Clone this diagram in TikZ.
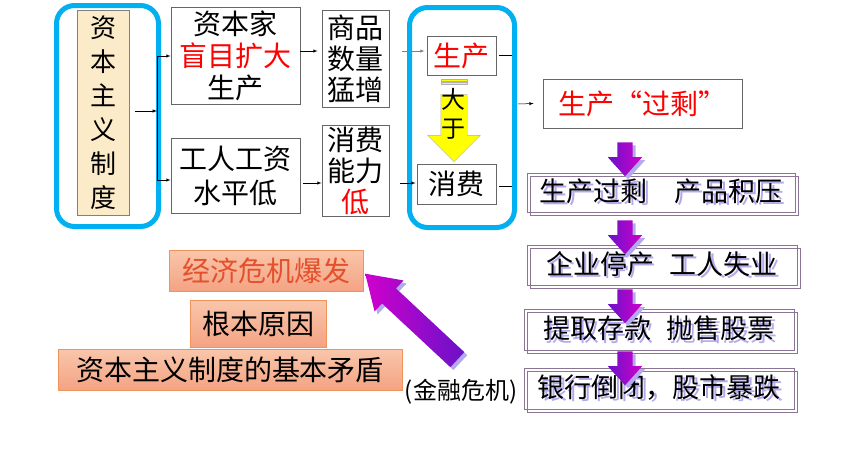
\documentclass[tikz,border=0pt]{standalone}
\usepackage{fontspec}
\setmainfont{Noto Sans CJK SC}
\usetikzlibrary{arrows,shapes,shadows}

\definecolor{skyline}{HTML}{00B0F0}
\definecolor{tanfill}{HTML}{FCEBC8}
\definecolor{salmonA}{HTML}{F9C6AB}
\definecolor{salmonB}{HTML}{F4A383}
\definecolor{salmonline}{HTML}{F0945C}
\definecolor{crisisred}{HTML}{E4502C}
\definecolor{plum}{HTML}{8C7496}
\definecolor{lavender}{HTML}{B3AAEE}
\definecolor{violetA}{HTML}{6A12C8}
\definecolor{violetB}{HTML}{D000CC}
\definecolor{lemon}{HTML}{FFFF00}

\newcommand\shtext[1]{\makebox[0pt][l]{\hspace*{2.5pt}\raisebox{-2.5pt}{\textcolor{lavender}{#1}}}#1}

\begin{document}
\begin{tikzpicture}[x=1pt,y=-1pt]
				\tikzstyle{arrow}=[draw, -latex, line width=0.5pt]
				\tikzstyle{plain}=[draw=gray!80!black, line width=0.8pt, fill=white, inner sep=0pt, align=center, font=\fontsize{28}{32}\selectfont]
				\tikzstyle{frame}=[draw=skyline, line width=5pt, rounded corners=18pt]
				\tikzstyle{chain}=[draw=plum, line width=0.6pt, inner sep=0pt, font=\fontsize{27}{30}\selectfont, drop shadow={shadow xshift=3pt, shadow yshift=-3pt, fill=none, draw=plum, opacity=1}]
				\tikzstyle{salmon}=[draw=salmonline, line width=0.8pt, top color=salmonA, bottom color=salmonB, inner sep=0pt, font=\fontsize{28}{32}\selectfont]
				\tikzstyle{parrow}=[single arrow, inner xsep=0pt, single arrow head indent=0pt, drop shadow={shadow xshift=3pt, shadow yshift=-3pt, fill=lavender, opacity=1}]
				\tikzstyle{downarrow}=[parrow, rotate=-90, inner ysep=7.5pt, minimum height=34pt, single arrow head extend=9.5pt, single arrow tip angle=84, left color=violetA, right color=violetB]

				\useasboundingbox (0,0) rectangle (860,469);

				 % Cause
				\node [frame, minimum width=102pt, minimum height=221pt] at (107.5,116) (leftframe) {};
				\node [plain, draw=gray, fill=tanfill, minimum width=52pt, minimum height=205pt, font=\fontsize{26}{34}\selectfont] at (103,112.5) (system) {资\\本\\主\\义\\制\\度};
				\node [plain, minimum width=129pt, minimum height=97pt] at (235.5,55.5) (owner) {资本家\\\textcolor{red}{盲目扩大}\\生产};
				\node [plain, minimum width=129pt, minimum height=75pt, font=\fontsize{28}{34}\selectfont] at (235.5,175.5) (wage) {工人工资\\水平低};
				\node [plain, minimum width=67pt, minimum height=97pt, font=\fontsize{28}{31}\selectfont] at (355.5,58.5) (goods) {商品\\数量\\猛增};
				\node [plain, minimum width=67pt, minimum height=91pt, font=\fontsize{28}{31}\selectfont] at (355.5,170.5) (power) {消费\\能力\\\textcolor{red}{低}};

				 % Contradiction
				\node [frame, minimum width=105pt, minimum height=220pt] at (462,117.5) (rightframe) {};
				\node [plain, minimum width=69pt, minimum height=39pt, text=red] at (461.5,55.5) (supply) {生产};
				\node [plain, minimum width=79pt, minimum height=40pt] at (456.5,184) (demand) {消费};
				\fill [lemon, draw=gray!60] (441,79) rectangle (467,81);
				\fill [lemon, draw=gray!60] (441,82.5) rectangle (467,84.5);
				\node [single arrow, rotate=-90, fill=lemon, draw=gray!60, inner xsep=0pt, inner ysep=13pt, minimum height=67pt, single arrow head extend=13pt, single arrow tip angle=90, single arrow head indent=0pt] at (454,121.5) (more) {};
				\node [inner sep=0pt, align=center, font=\fontsize{24}{29}\selectfont] at (453,113.5) (moretext) {大\\于};

				 % Chain
				\node [plain, minimum width=199pt, minimum height=49pt, text=red] at (642.5,103.5) (excess) {生产“过剩”};
				\node [chain, minimum width=268pt, minimum height=39pt] at (661,192.5) (glut) {\shtext{生产过剩　产品积压}};
				\node [chain, minimum width=270pt, minimum height=40pt] at (662,265) (idle) {\shtext{企业停产\hspace{16pt}工人失业}};
				\node [chain, minimum width=270pt, minimum height=41pt] at (659,329.5) (panic) {\shtext{提取存款\hspace{16pt}抛售股票}};
				\node [chain, minimum width=270pt, minimum height=41pt] at (659,388.5) (crash) {\shtext{银行倒闭，股市暴跌}};

				 % Result
				\node [salmon, minimum width=194pt, minimum height=41pt, text=crisisred] at (266,270.5) (crisis) {经济危机爆发};
				\node [salmon, minimum width=136pt, minimum height=47pt] at (258,323.5) (cause) {根本原因};
				\node [salmon, minimum width=344pt, minimum height=41pt] at (230,369.5) (root) {资本主义制度的基本矛盾};
				\node [inner sep=0pt, font=\fontsize{24}{24}\selectfont] at (461,392) (finance) {(金融危机)};

				 % Path Arrows
				\coordinate (split) at (157,111);
				\coordinate (splitT) at (157,56);
				\coordinate (splitB) at (157,180);
				\path [arrow] ([xshift=6pt,yshift=1.5pt]system.east) -- (split);
				\draw [line width=0.8pt] (splitT) -- (splitB);
				\path [arrow] (splitT) -- (splitT -| owner.west);
				\path [arrow] (splitB) -- (splitB -| wage.west);
				\path [arrow, shorten >=4pt] ([yshift=4.5pt]owner.east) -- ([yshift=7.5pt]goods.west);
				\path [arrow] ([xshift=3pt,yshift=-7.5pt]wage.east) -- ([yshift=-12.5pt]power.west);
				\path [arrow, draw=gray] ([xshift=13pt,yshift=7.5pt]goods.east) -- ([xshift=-2pt,yshift=4.5pt]supply.west);
				\path [arrow] ([xshift=11pt,yshift=-12.5pt]power.east) -- ([xshift=-1pt,yshift=1pt]demand.west);
				\draw [line width=0.5pt] ([xshift=3pt]supply.east) -- ++(13,0);
				\draw [line width=0.5pt] ([xshift=3pt,yshift=-2pt]demand.east) -- ++(13,0);
				\path [arrow] ([xshift=1pt,yshift=13.5pt]rightframe.east) -- ([xshift=-9pt]excess.west);

				\node [downarrow] at (625,155) (down1) {};
				\node [downarrow] at (625,233) (down2) {};
				\node [downarrow] at (625,302) (down3) {};
				\node [downarrow] at (625,364) (down4) {};
				\node [parrow, rotate=137, inner ysep=10pt, minimum height=126pt, single arrow head extend=11pt, single arrow tip angle=66, left color=violetB, right color=violetA] at (417,322) (burst) {};

			\end{tikzpicture}
\end{document}
